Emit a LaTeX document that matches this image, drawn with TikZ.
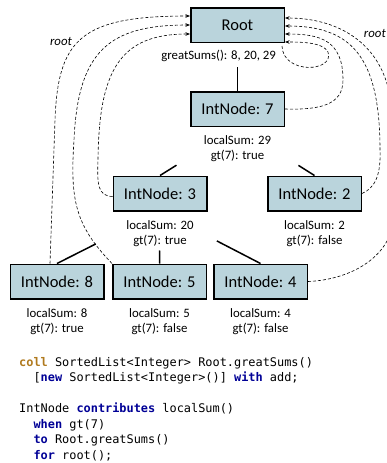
\documentclass[tikz,border=0pt]{standalone}
\usepackage{fontspec}
\setmainfont{Carlito}
\newfontfamily\codefont{DejaVu Sans Mono}
\usepackage{tikz}
\usetikzlibrary{arrows.meta,positioning,calc}

\definecolor{boxfill}{RGB}{186,212,220}
\definecolor{collcol}{RGB}{176,122,30}
\definecolor{kwblue}{RGB}{0,0,150}
\newcommand{\keyw}[1]{\textcolor{kwblue}{\bfseries #1}}

\tikzset{
  box/.style={draw,line width=1.5pt,fill=boxfill,minimum width=93.5pt,
    minimum height=34.5pt,inner sep=0pt,font=\fontsize{16.5}{19}\selectfont},
  info/.style={align=center,inner sep=0pt,font=\fontsize{12.8}{15}\selectfont},
  edge/.style={line width=1.5pt},
  contrib/.style={line width=0.6pt,dash pattern=on 3pt off 2pt,
    -{Stealth[length=4.5pt,width=3.5pt]}},
}

\begin{document}
\begin{tikzpicture}[x=1pt,y=-1pt]
  \useasboundingbox (0,0) rectangle (387,463);
  \clip (0,0) rectangle (387,463);

  % tree of nodes
  \node[box] (root) at (237.5,25) {Root};
  \node[box] (n7) at (237.5,109) {IntNode: 7};
  \node[box] (n3) at (160,193.5) {IntNode: 3};
  \node[box] (n2) at (314.5,193.5) {IntNode: 2};
  \node[box] (n8) at (57,281.5) {IntNode: 8};
  \node[box] (n5) at (159.5,281.5) {IntNode: 5};
  \node[box] (n4) at (260.5,281.5) {IntNode: 4};

  % attribute values
  \node[info,anchor=base east] (sums) at ($(root.south east)+(-9,16)$) {greatSums(): 8, 20, 29};
  \node[info,below=8.5pt of n7] (s7) {localSum: 29\\gt(7): true};
  \node[info,below=8.5pt of n3] (s3) {localSum: 20\\gt(7): true};
  \node[info,below=8.5pt of n2] (s2) {localSum: 2\\gt(7): false};
  \node[info,below=8.5pt of n8] (s8) {localSum: 8\\gt(7): true};
  \node[info,below=8.5pt of n5] (s5) {localSum: 5\\gt(7): false};
  \node[info,below=8.5pt of n4] (s4) {localSum: 4\\gt(7): false};

  \draw[edge,shorten <=24pt] (root.south) -- (n7.north);
  \draw[edge,shorten <=72pt] (n7.south) -- (n3.north);
  \draw[edge,shorten <=72pt] (n7.south) -- (n2.north);
  \draw[edge,shorten <=72pt] (n3.south) -- (n8.north);
  \draw[edge,shorten <=39pt] (n3.south) -- (n5.north);
  \draw[edge,shorten <=64pt] (n3.south) -- (n4.north);

  % contributions to the root, left side
  \draw[contrib] ($(n8.north)+(-7,0)$) -- (55,120)
    .. controls (58,40) and (80,16) .. ($(root.west)+(0,-9)$);
  \draw[contrib] (n5.north west) .. controls (75,225) and (70,200) .. (74,140)
    .. controls (78,50) and (110,25) .. (root.west);
  \draw[contrib] ($(n3.west)+(0,3)$) .. controls (98,196) and (97,185) .. (98,160)
    .. controls (99,70) and (120,34) .. ($(root.west)+(0,9)$);
  \node[font=\fontsize{12.8}{15}\selectfont\itshape] (rootl) at (61,41) {root};

  % contributions to the root, right side
  \draw[contrib] ($(root.south east)+(-3,3)$) .. controls (283,75) and (335,72) .. (328,52)
    .. controls (323,42) and (300,42) .. ($(root.east)+(0,17)$);
  \draw[contrib] (n7.east) .. controls (320,110) and (343,105) .. (343,80)
    .. controls (343,40) and (320,34) .. ($(root.east)+(0,9)$);
  \draw[contrib] (n2.east) .. controls (375,188) and (381,175) .. (380,150)
    .. controls (380,55) and (350,26) .. ($(root.east)+(0,1)$);
  \draw[contrib] (n4.east) .. controls (345,280) and (385,262) .. (393,225) -- (392,120)
    .. controls (392,50) and (345,18) .. ($(root.east)+(0,-7)$);
  \node[font=\fontsize{12.8}{15}\selectfont\itshape,anchor=east,inner sep=1pt] (rootr) at (387,33) {root};

  % the code
  \node[anchor=north west,align=left,inner sep=0pt,
    font=\codefont\fontsize{11.9}{15.5}\selectfont] (code) at (19,357) {%
    \textcolor{collcol}{\bfseries coll} SortedList<Integer> Root.greatSums()\\
    \phantom{xx}[\keyw{new} SortedList<Integer>()] \keyw{with} add;\\[15.5pt]
    IntNode \keyw{contributes} localSum()\\
    \phantom{xx}\keyw{when} gt(7)\\
    \phantom{xx}\keyw{to} Root.greatSums()\\
    \phantom{xx}\keyw{for} root();};
\end{tikzpicture}
\end{document}
